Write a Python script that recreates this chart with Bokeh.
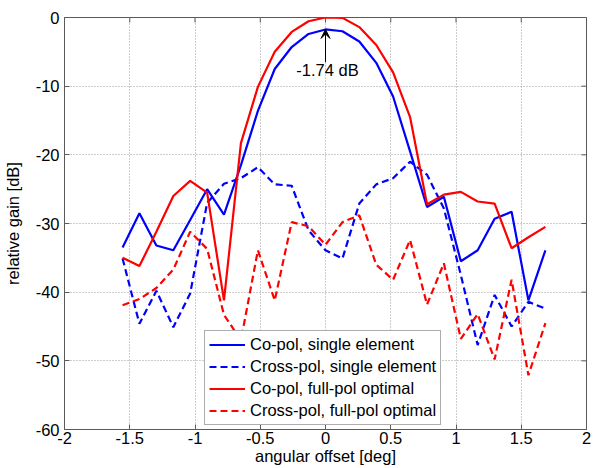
import math
from bokeh.plotting import figure
from bokeh.models import (Legend, LegendItem, Label, Arrow, VeeHead,
                          Range1d, FixedTicker, ColumnDataSource)
from bokeh.embed import file_html
from bokeh.resources import INLINE

# ---- data ----
offset_deg = [-1.555, -1.426, -1.296, -1.166, -1.037, -0.907, -0.778, -0.648, -0.518,
              -0.389, -0.259, -0.130, 0.0, 0.130, 0.259, 0.389, 0.518, 0.648, 0.778,
              0.907, 1.037, 1.166, 1.296, 1.426, 1.555, 1.685]

copol_single = [-33.5, -28.5, -33.2, -33.9, -29.5, -25.0, -28.7, -21.5, -13.6, -7.5,
                -4.3, -2.4, -1.74, -2.0, -3.5, -6.6, -11.5, -19.5, -27.6, -26.1,
                -35.5, -33.9, -29.3, -28.3, -41.2, -33.9]
xpol_single = [-35.1, -44.6, -39.8, -45.1, -40.2, -27.0, -24.2, -23.4, -21.8, -24.3,
               -24.5, -31.0, -33.9, -35.1, -27.1, -24.3, -23.4, -21.0, -22.9, -27.8,
               -37.5, -47.7, -40.4, -45.0, -41.4, -42.4]
copol_full = [-35.0, -36.2, -31.2, -26.0, -23.8, -25.5, -41.2, -18.3, -10.1, -5.0,
              -2.1, -0.55, 0.0, -0.05, -1.4, -4.0, -8.0, -14.5, -27.2, -25.8,
              -25.4, -26.8, -27.1, -33.6, -32.0, -30.5]
xpol_full = [-41.9, -41.0, -39.4, -36.7, -31.2, -33.7, -43.3, -47.0, -33.9, -41.2,
             -29.8, -30.4, -33.1, -29.8, -28.8, -36.0, -38.2, -32.4, -41.8, -35.8,
             -46.8, -43.2, -49.8, -38.2, -52.1, -44.5]

series_names = ["Co-pol, single element", "Cross-pol, single element",
                "Co-pol, full-pol optimal", "Cross-pol, full-pol optimal"]

x_ticks = [-2, -1.5, -1, -0.5, 0, 0.5, 1, 1.5, 2]
x_tick_labels = ["-2", "-1.5", "-1", "-0.5", "0", "0.5", "1", "1.5", "2"]
y_ticks = [-60, -50, -40, -30, -20, -10, 0]
y_tick_labels = ["-60", "-50", "-40", "-30", "-20", "-10", "0"]

peak_value = -1.74
peak_text = "-1.74 dB"

FONT = "Liberation Sans"
FS = "16.5px"
EDGE = "#5a5a5a"

XMIN, XMAX, YMIN, YMAX = -2, 2, -60, 0

p = figure(width=596, height=468, x_range=Range1d(XMIN, XMAX), y_range=Range1d(YMIN, YMAX),
           output_backend="svg", toolbar_location=None,
           min_border_left=63, min_border_right=10, min_border_top=17, min_border_bottom=39)

p.background_fill_color = "white"
p.border_fill_color = "white"
p.outline_line_color = EDGE
p.outline_line_width = 1

for ax in (p.xaxis[0], p.yaxis[0]):
    ax.major_tick_in = 5
    ax.major_tick_out = 0
    ax.minor_tick_line_color = None
    ax.axis_line_color = None
    ax.major_tick_line_color = EDGE
    ax.major_label_text_font = FONT
    ax.major_label_text_font_size = FS
    ax.major_label_text_color = "black"
    ax.axis_label_text_font = FONT
    ax.axis_label_text_font_size = FS
    ax.axis_label_text_font_style = "normal"
    ax.axis_label_text_color = "black"

p.xaxis.ticker = FixedTicker(ticks=x_ticks)
p.xaxis.major_label_overrides = {t: l for t, l in zip(x_ticks, x_tick_labels)}
p.xaxis.axis_label = "angular offset [deg]"
p.xaxis.major_label_standoff = 2
p.xaxis.axis_label_standoff = 0

p.yaxis.ticker = FixedTicker(ticks=y_ticks)
p.yaxis.major_label_overrides = {t: l for t, l in zip(y_ticks, y_tick_labels)}
p.yaxis.axis_label = "relative gain [dB]"
p.yaxis.major_label_standoff = 5
p.yaxis.axis_label_standoff = 11

# grid
p.xgrid.ticker = FixedTicker(ticks=x_ticks)
p.ygrid.ticker = FixedTicker(ticks=y_ticks)
p.grid.grid_line_color = "#9a9a9a"
p.grid.grid_line_dash = "1 2"
p.grid.grid_line_width = 1

# top / right inward tick marks (box style)
p.ray(x=x_ticks, y=[YMAX] * len(x_ticks), length=5, length_units="screen",
      angle=-math.pi / 2, line_color=EDGE, line_width=1)
p.ray(x=[XMAX] * len(y_ticks), y=y_ticks, length=5, length_units="screen",
      angle=math.pi, line_color=EDGE, line_width=1)

src = ColumnDataSource(dict(x=offset_deg, cs=copol_single, xs=xpol_single,
                            cf=copol_full, xf=xpol_full))

r1 = p.line("x", "cs", source=src, line_color="#0000ff", line_width=2.2)
r2 = p.line("x", "xs", source=src, line_color="#0000ff", line_width=2.2, line_dash="7 4")
r3 = p.line("x", "cf", source=src, line_color="#ff0000", line_width=2.2)
r4 = p.line("x", "xf", source=src, line_color="#ff0000", line_width=2.2, line_dash="7 4")

# annotation
p.add_layout(Arrow(end=VeeHead(size=9, fill_color="black", line_color="black", line_width=1),
                   x_start=0, y_start=-6.5, x_end=0, y_end=peak_value,
                   line_color="black", line_width=1))
p.add_layout(Label(x=0.015, y=-7.7, text=peak_text, text_align="center",
                   text_baseline="middle", text_font=FONT, text_font_size=FS,
                   text_color="black"))

legend = Legend(items=[LegendItem(label=series_names[0], renderers=[r1]),
                       LegendItem(label=series_names[1], renderers=[r2]),
                       LegendItem(label=series_names[2], renderers=[r3]),
                       LegendItem(label=series_names[3], renderers=[r4])],
                location=(140, 4))
legend.label_text_font = FONT
legend.label_text_font_size = FS
legend.label_text_color = "black"
legend.glyph_width = 36
legend.glyph_height = 19
legend.label_height = 19
legend.spacing = 3
legend.padding = 4
legend.margin = 0
legend.label_standoff = 5
legend.border_line_color = EDGE
legend.border_line_width = 1
legend.background_fill_color = "white"
legend.background_fill_alpha = 1.0
p.add_layout(legend)

open("out.html", "w").write(file_html(p, INLINE))
